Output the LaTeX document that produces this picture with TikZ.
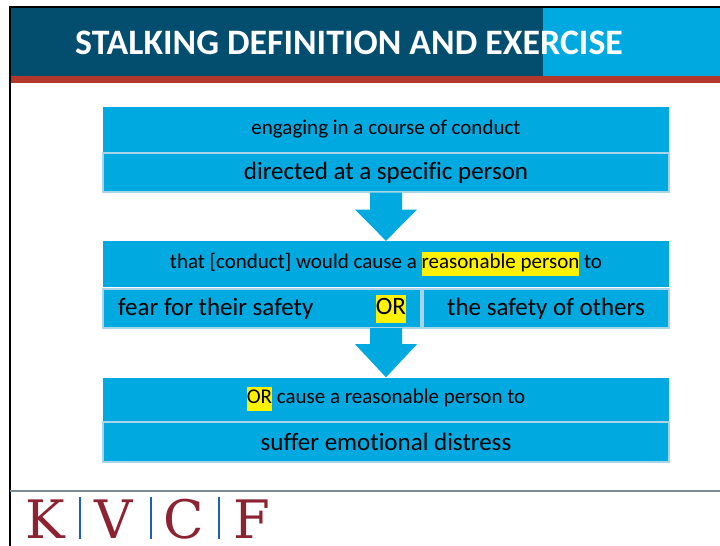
\documentclass[tikz,border=0pt]{standalone}
\usepackage{fontspec}
\setmainfont{Carlito}[Ligatures=NoCommon]
\newfontfamily\logofont{DejaVu Serif}
\usetikzlibrary{calc}
\definecolor{hdrdark}{HTML}{034E6E}
\definecolor{hdrlight}{HTML}{00A9E0}
\definecolor{boxblue}{HTML}{00A9E0}
\definecolor{boxline}{HTML}{A9D5EA}
\definecolor{stripe}{HTML}{B2382C}
\definecolor{logored}{HTML}{8B2332}
\definecolor{logoblue}{HTML}{1B62B5}
\definecolor{rulegrey}{HTML}{7E8A91}
\newcommand{\hlite}[1]{{\setlength{\fboxsep}{0pt}\colorbox{yellow}{\strut #1}}}

\begin{document}
\begin{tikzpicture}[x=1pt,y=-1pt,
        rowbox/.style={rectangle, fill=boxblue, inner sep=0pt, minimum width=566pt, text=black},
        rowline/.style={rowbox, draw=boxline, line width=1.2pt},
        small/.style={font=\fontsize{21}{24}\selectfont},
        large/.style={font=\fontsize{25}{28}\selectfont},
        logo/.style={anchor=base, inner sep=0pt, text depth=0pt, text=logored, font=\logofont\fontsize{53}{53}\selectfont}]
                \useasboundingbox (0,0) rectangle (720,546);
                \fill[white] (0,0) rectangle (720,546);
                
                % header
                \fill[hdrdark] (10,8) rectangle (543,76);
                \fill[hdrlight] (543,8) rectangle (720,76);
                \fill[stripe] (10,76) rectangle (720,83);
                \draw[line width=2pt] (10,546) -- (10,7) -- (720,7);
                \node [anchor=west, inner sep=0pt, text=white, font=\bfseries\fontsize{35.8}{40}\selectfont] (title) at (75,43) {STALKING DEFINITION AND EXERCISE};
                
                % first box
                \node [rowbox, small, minimum height=45pt] (engage) at (386,129) {engaging in a course of conduct};
                \node [rowline, large, minimum height=39pt] (directed) at (386,172.5) {directed at a specific person};
                
                % second box
                \node [rowbox, small, minimum height=46pt] (cause) at (386,264) {that [conduct] would cause a \hlite{reasonable person} to};
                \node [rowline, minimum width=318pt, minimum height=39pt] (fear) at (262,308.5) {};
                \node [rowline, large, minimum width=246pt, minimum height=39pt] (others) at (546,308.5) {the safety of others};
                \node [large, anchor=west, inner sep=0pt] (feartext) at (118,308.5) {fear for their safety};
                \node [large, inner sep=0pt] (orfirst) at (391,308.5) {\hlite{OR}};
                
                % third box
                \node [rowbox, small, minimum height=43pt] (orcause) at (386,399) {\hlite{OR} cause a reasonable person to};
                \node [rowline, large, minimum height=40pt] (distress) at (386,442) {suffer emotional distress};
                
                % block arrows
                \fill[boxblue] ($(directed.south)+(-16,0)$) -- ($(directed.south)+(16,0)$) -- ($(directed.south)+(16,17)$) -- ($(directed.south)+(31,17)$) -- (cause.north) -- ($(directed.south)+(-31,17)$) -- ($(directed.south)+(-16,17)$) -- cycle;
                \fill[boxblue] ($(cause.south)+(-16,41)$) -- ($(cause.south)+(16,41)$) -- ($(cause.south)+(16,57)$) -- ($(cause.south)+(31,57)$) -- (orcause.north) -- ($(cause.south)+(-31,57)$) -- ($(cause.south)+(-16,57)$) -- cycle;
                
                % footer
                \draw[rulegrey, line width=1.5pt] (10,491) -- (720,491);
                \node [logo] (logoK) at (45,538) {K};
                \node [logo] (logoV) at (114,538) {V};
                \node [logo] (logoC) at (184,538) {C};
                \node [logo] (logoF) at (252,538) {F};
                \draw[logoblue, line width=1.2pt] (80,497) -- (80,539);
                \draw[logoblue, line width=1.2pt] (151,497) -- (151,539);
                \draw[logoblue, line width=1.2pt] (219,497) -- (219,539);
            \end{tikzpicture}
\end{document}
